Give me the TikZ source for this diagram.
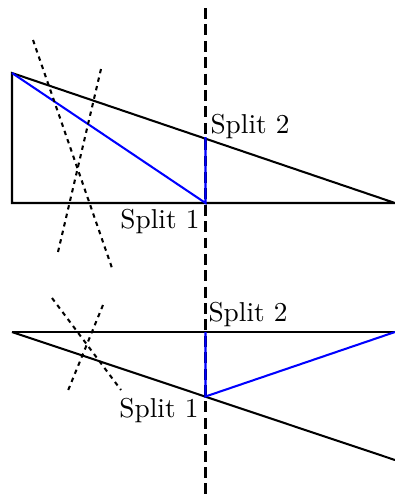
\documentclass[tikz,border=0pt]{standalone}
\begin{document}
\begin{tikzpicture}[x=0.366pt,y=-0.366pt,
  edge/.style={line width=0.75pt},
  bluedge/.style={line width=0.75pt,blue},
  splitline/.style={line width=0.75pt,dash pattern=on 4pt off 2pt},
  cutline/.style={line width=0.75pt,dash pattern=on 1.6pt off 1.6pt},
  lbl/.style={inner sep=0pt,font=\normalsize}]
\useasboundingbox (0,0) rectangle (395,494);
% vertical split line
\coordinate (vt) at (205.5,8);
\coordinate (vb) at (205.5,494);
\draw[splitline] (vt) -- (vb);
% top figure
\coordinate (A) at (12,73);
\coordinate (B) at (12,203);
\coordinate (C) at (395,203);
\coordinate (P) at (205.5,137);
\coordinate (Q) at (205.5,203);
\draw[edge] (A) -- (B) -- (C) -- cycle;
\draw[bluedge] (A) -- (Q) -- (P);
\coordinate (d1a) at (33,40);
\coordinate (d1b) at (112,268);
\coordinate (d2a) at (101,69);
\coordinate (d2b) at (58,252);
\draw[cutline] (d1a) -- (d1b);
\draw[cutline] (d2a) -- (d2b);
\node[lbl,anchor=west] (s2t) at (210,127) {Split 2};
\node[lbl,anchor=east] (s1t) at (200,222) {Split 1};
% bottom figure
\coordinate (D) at (12,332);
\coordinate (E) at (395,332);
\coordinate (F) at (395,460);
\coordinate (R) at (205.5,332);
\coordinate (S) at (205.5,396.5);
\draw[edge] (D) -- (E);
\draw[edge] (D) -- (F);
\draw[bluedge] (R) -- (S) -- (E);
\coordinate (d3a) at (52,298);
\coordinate (d3b) at (121,390);
\coordinate (d4a) at (103,305);
\coordinate (d4b) at (67,393);
\draw[cutline] (d3a) -- (d3b);
\draw[cutline] (d4a) -- (d4b);
\node[lbl,anchor=west] (s2b) at (208,315) {Split 2};
\node[lbl,anchor=east] (s1b) at (199,411) {Split 1};
\end{tikzpicture}
\end{document}
